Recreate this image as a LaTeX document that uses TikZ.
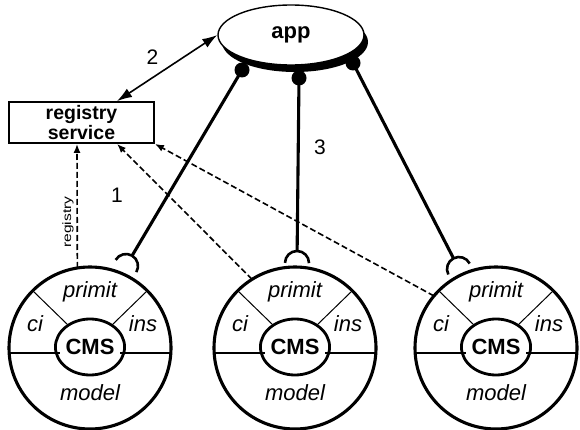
\documentclass[tikz,border=0pt]{standalone}
\usepackage{fontspec}
\usepackage{graphicx}
\setmainfont{Liberation Sans}
\usetikzlibrary{arrows.meta,shapes.geometric,shadows,calc}
\begin{document}
\begin{tikzpicture}[x=1pt,y=1pt,
  conn/.style={line width=3.1pt},
  sock/.style={line width=2.6pt},
  dep/.style={line width=1.6pt, dash pattern=on 6pt off 3pt,
              -{Latex[length=9pt,width=7pt]}},
  ball/.style={circle, fill=black, inner sep=0pt, minimum size=15pt},
  outer/.style={circle, draw, line width=3.1pt, minimum size=162pt,
                inner sep=0pt, outer sep=0pt},
  core/.style={ellipse, draw, line width=2.8pt, minimum width=62pt,
               minimum height=56pt, inner sep=0pt, outer sep=0pt,
               font=\fontsize{22}{22}\selectfont\bfseries},
  part/.style={font=\fontsize{22}{22}\selectfont\itshape},
  num/.style={font=\fontsize{21}{21}\selectfont},
]
\useasboundingbox (0,0) rectangle (580,-430);

% application with its shadowed outline
\node[ellipse, draw, line width=1.4pt, fill=white, minimum width=146pt,
      minimum height=60pt,
      general shadow={fill=black, shadow xshift=4pt, shadow yshift=-7pt},
      font=\fontsize{22}{22}\selectfont\bfseries] (app) at (291,-35) {app};

% registry service
\node[draw, line width=1.8pt, minimum width=145pt, minimum height=41pt,
      inner sep=0pt, align=center,
      font=\fontsize{19.5}{15}\selectfont\bfseries] (reg) at (81.5,-122.5)
      {registry\\service};

% three CMS components
\foreach \i/\cx in {1/90,2/295,3/496}{
  \node[outer] (o\i) at (\cx,-348) {};
  \node[core] (i\i) at (\cx,-347) {CMS};
  \draw[line width=1pt] (o\i.135) -- (i\i.135);
  \draw[line width=1pt] (o\i.45) -- (i\i.45);
  \draw[line width=2pt] ($(o\i.center)+(-80.8,-5)$) -- ($(i\i.center)+(-30.3,-6)$);
  \draw[line width=2pt] ($(o\i.center)+(80.8,-5)$) -- ($(i\i.center)+(30.3,-6)$);
  \node[part] (p\i) at ($(o\i.center)+(0,56)$) {primit};
  \node[part] (c\i) at ($(o\i.center)+(-55,24)$) {ci};
  \node[part] (n\i) at ($(o\i.center)+(53,24)$) {ins};
  \node[part] (m\i) at ($(o\i.center)+(0,-45)$) {model};
}

% provided ports on the application, required ports on the components
\coordinate (s1) at (126,-266);
\coordinate (s2) at (297,-263);
\coordinate (s3) at (459,-269);
\coordinate (q1) at (242,-70);
\coordinate (q2) at (299,-78);
\coordinate (q3) at (353,-63);
\draw[conn] (q1) -- ($(s1)!12pt!(q1)$);
\draw[conn] (q2) -- ($(s2)!12pt!(q2)$);
\draw[conn] (q3) -- ($(s3)!12pt!(q3)$);
\node[ball] (b1) at (q1) {};
\node[ball] (b2) at (q2) {};
\node[ball] (b3) at (q3) {};
\draw[sock] ($(s1)+(-30.6:12pt)$) arc[start angle=-30.6, end angle=149.4, radius=12pt];
\draw[sock] ($(s2)+(-0.6:12pt)$) arc[start angle=-0.6, end angle=179.4, radius=12pt];
\draw[sock] ($(s3)+(27.2:12pt)$) arc[start angle=27.2, end angle=207.2, radius=12pt];

% lookup between registry and application
\draw[line width=1.6pt, {Latex[length=15pt,width=10pt]}-{Latex[length=15pt,width=10pt]}]
  ([xshift=35.5pt]reg.north) -- (app.west);

% registrations
\draw[dep] (o1.99) -- ([xshift=-4.5pt]reg.south);
\draw[dep] (o2.122) -- ([xshift=35.5pt]reg.south);
\draw[dep] (o3.140) -- (reg.south east);

\node[rotate=90, font=\fontsize{12}{12}\selectfont] (rl) at (68,-222)
  {\scalebox{1.3}[1]{registry}};
\node[num] (l1) at (117,-195) {1};
\node[num] (l2) at (152.5,-57.5) {2};
\node[num] (l3) at (320,-147.5) {3};
\end{tikzpicture}
\end{document}
